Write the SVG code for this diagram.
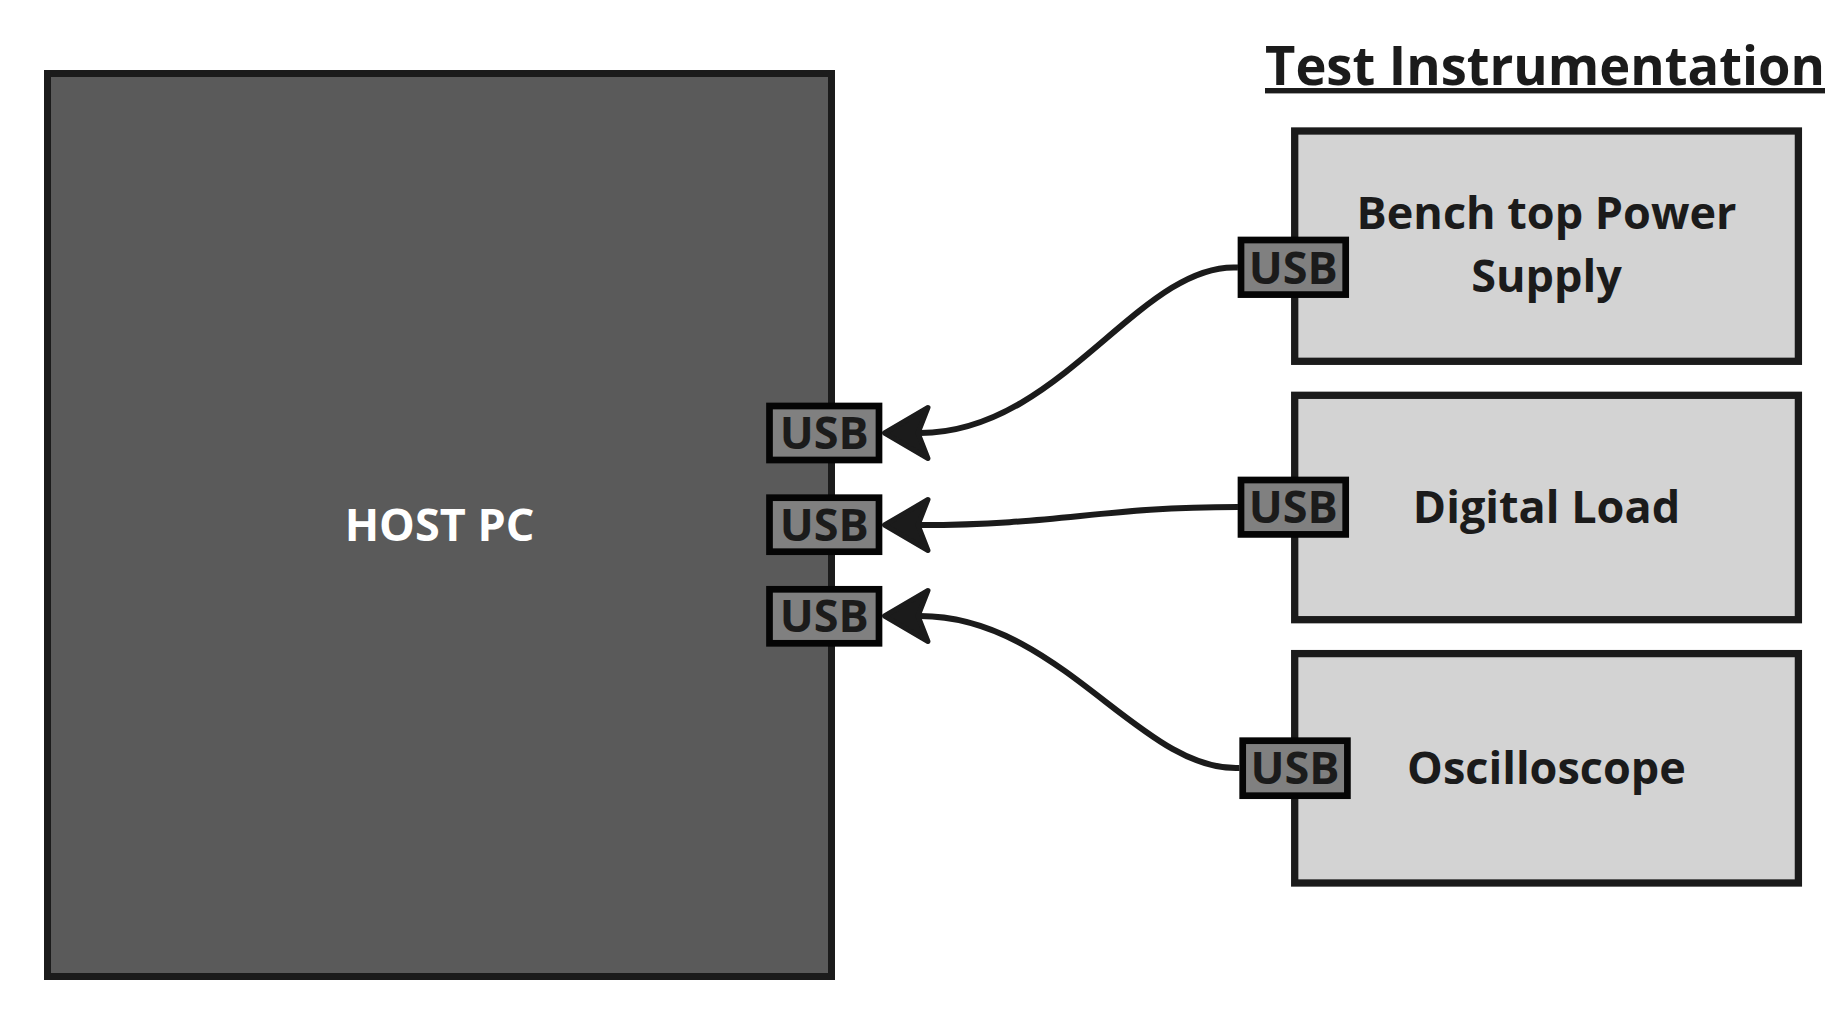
<svg xmlns="http://www.w3.org/2000/svg" width="1834" height="1020" viewBox="0 0 1834 1020">
  <style>
    text { font-family: "Open Sans", "Noto Sans", "Liberation Sans", sans-serif; font-weight: 700; fill: #1b1b1b; }
    .lbl { font-size: 45px; text-anchor: middle; }
    .usbt { font-size: 45px; text-anchor: middle; }
    .host { fill: #5a5a5a; stroke: #1b1b1b; stroke-width: 7; }
    .inst { fill: #d3d3d3; stroke: #1b1b1b; stroke-width: 7.3; }
    .usb { fill: #808080; stroke: #050505; stroke-width: 6.7; }
    .wire { fill: none; stroke: #1b1b1b; stroke-width: 6; marker-end: url(#arrow); }
  </style>
  <defs>
    <marker id="arrow" markerUnits="userSpaceOnUse" markerWidth="80" markerHeight="80" viewBox="-20 -40 80 80" refX="0" refY="0" orient="auto">
      <path d="M35.5,0 L-8,-25.5 L2,0 L-8,25.5 Z" fill="#1b1b1b" stroke="#1b1b1b" stroke-width="5" stroke-linejoin="round"/>
    </marker>
  </defs>
  <rect width="1834" height="1020" fill="#ffffff"/>

  <g id="title">
    <text x="1265" y="85" font-size="54" textLength="560" lengthAdjust="spacingAndGlyphs" text-decoration="underline">Test Instrumentation</text>
  </g>

  <g id="host-pc">
    <rect class="host" x="47.5" y="73.5" width="784" height="903"/>
    <text class="lbl" x="439.5" y="541" style="fill:#ffffff">HOST PC</text>
  </g>

  <g id="host-usb-1">
    <rect class="usb" x="769.5" y="406" width="109.5" height="54"/>
    <text class="usbt" x="824.2" y="449">USB</text>
  </g>
  <g id="host-usb-2">
    <rect class="usb" x="769.5" y="497.7" width="109.5" height="54"/>
    <text class="usbt" x="824.2" y="540.7">USB</text>
  </g>
  <g id="host-usb-3">
    <rect class="usb" x="769.5" y="589.3" width="109.5" height="54"/>
    <text class="usbt" x="824.2" y="632.3">USB</text>
  </g>

  <g id="power-supply">
    <rect class="inst" x="1294.7" y="131" width="503.7" height="230.3"/>
    <text class="lbl" x="1546.5" y="229">Bench top Power</text>
    <text class="lbl" x="1546.5" y="292">Supply</text>
    <g id="power-supply-usb">
      <rect class="usb" x="1241" y="240" width="104.7" height="54.6"/>
      <text class="usbt" x="1293.3" y="283.5">USB</text>
    </g>
  </g>

  <g id="digital-load">
    <rect class="inst" x="1294.7" y="395.3" width="503.7" height="224.4"/>
    <text class="lbl" x="1546.5" y="523">Digital Load</text>
    <g id="digital-load-usb">
      <rect class="usb" x="1241" y="480" width="104.7" height="54.4"/>
      <text class="usbt" x="1293.3" y="523">USB</text>
    </g>
  </g>

  <g id="oscilloscope">
    <rect class="inst" x="1294.7" y="653.6" width="503.7" height="229.4"/>
    <text class="lbl" x="1546.5" y="784">Oscilloscope</text>
    <g id="oscilloscope-usb">
      <rect class="usb" x="1242.7" y="740.7" width="104.7" height="55"/>
      <text class="usbt" x="1295" y="784">USB</text>
    </g>
  </g>

  <g id="connectors">
    <path class="wire" d="M1238,267.5 C1140,262 1060,433 920,433"/>
    <path class="wire" d="M1238,507 C1100,507 1060,525 920,525"/>
    <path class="wire" d="M1239.5,768 C1140,772 1060,616 920,616"/>
  </g>
</svg>
